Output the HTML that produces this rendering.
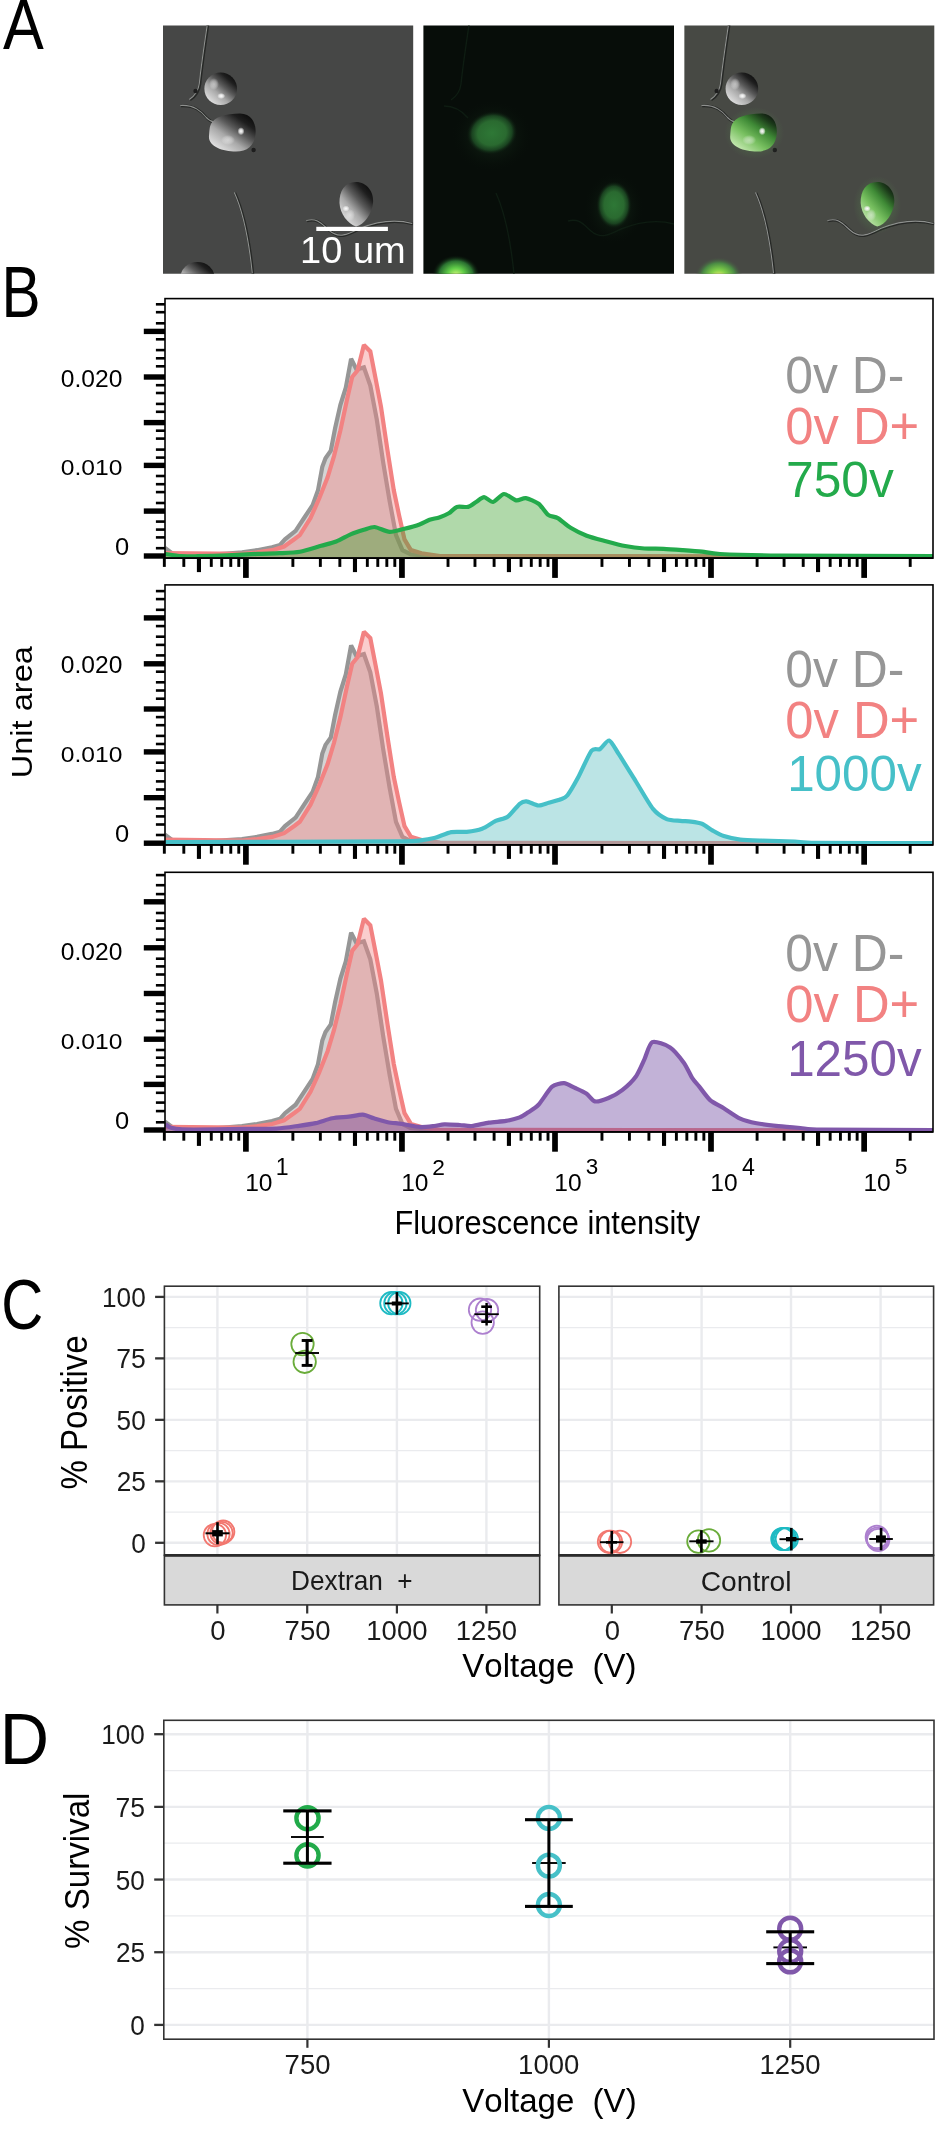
<!DOCTYPE html><html><head><meta charset="utf-8"><style>html,body{margin:0;padding:0;background:#fff;}svg{display:block;will-change:transform;}text{font-family:"Liberation Sans",sans-serif;}</style></head><body><svg width="936" height="2136" viewBox="0 0 936 2136">
<rect width="936" height="2136" fill="#fff"/>
<defs><linearGradient id="dic" x1="0.15" y1="0.9" x2="0.85" y2="0.1"><stop offset="0" stop-color="#e2e2e2"/><stop offset="0.35" stop-color="#a8a8a8"/><stop offset="0.6" stop-color="#5a5a5a"/><stop offset="0.85" stop-color="#1e1e1e"/><stop offset="1" stop-color="#101010"/></linearGradient><linearGradient id="dicg" x1="0.15" y1="0.9" x2="0.85" y2="0.1"><stop offset="0" stop-color="#c4e8b0"/><stop offset="0.35" stop-color="#78c060"/><stop offset="0.65" stop-color="#3f8a36"/><stop offset="0.9" stop-color="#1c3c1a"/><stop offset="1" stop-color="#142414"/></linearGradient><radialGradient id="fluo" cx="0.5" cy="0.5" r="0.5"><stop offset="0" stop-color="#2e7836"/><stop offset="0.55" stop-color="#2a6a30"/><stop offset="0.78" stop-color="#1a4220"/><stop offset="1" stop-color="#08100a" stop-opacity="0"/></radialGradient><radialGradient id="fhalo" cx="0.5" cy="0.5" r="0.5"><stop offset="0" stop-color="#1c3a20" stop-opacity="0.8"/><stop offset="1" stop-color="#08100a" stop-opacity="0"/></radialGradient><radialGradient id="fluob" cx="0.5" cy="0.5" r="0.5"><stop offset="0" stop-color="#d0f878"/><stop offset="0.35" stop-color="#60cc48"/><stop offset="0.7" stop-color="#2a7030"/><stop offset="1" stop-color="#08100a" stop-opacity="0"/></radialGradient><radialGradient id="ovb" cx="0.5" cy="0.5" r="0.5"><stop offset="0" stop-color="#f8f070"/><stop offset="0.35" stop-color="#80d048"/><stop offset="0.7" stop-color="#4a8a44"/><stop offset="1" stop-color="#474944" stop-opacity="0"/></radialGradient><radialGradient id="speck" cx="0.5" cy="0.5" r="0.5"><stop offset="0" stop-color="#ffffff"/><stop offset="0.5" stop-color="#f0f0f0" stop-opacity="0.8"/><stop offset="1" stop-color="#ffffff" stop-opacity="0"/></radialGradient><radialGradient id="halo" cx="0.5" cy="0.5" r="0.5"><stop offset="0" stop-color="#5aa050" stop-opacity="0.5"/><stop offset="1" stop-color="#5aa050" stop-opacity="0"/></radialGradient><clipPath id="c1"><rect x="163" y="25.5" width="250.2" height="248.2"/></clipPath><clipPath id="c2"><rect x="423.4" y="25.5" width="250.6" height="248.2"/></clipPath><clipPath id="c3"><rect x="684.2" y="25.6" width="250.1" height="248.2"/></clipPath></defs>
<g clip-path="url(#c1)">
<rect x="163" y="25" width="252" height="250" fill="#464746"/>
<g transform="translate(0,0)">
<path d="M208 25 C205 45 202 65 200 84 C199 92 196 96 190 100" fill="none" stroke="#262826" stroke-width="2.6"/>
<path d="M181 106 C195 105 202 112 207 118 C210 121 212 122 214 122" fill="none" stroke="#262826" stroke-width="2.6"/>
<path d="M235 193 C245 215 250 245 253 274" fill="none" stroke="#262826" stroke-width="2.6"/>
<path d="M307 221 C318 218 322 224 330 231 C340 240 350 234 360 229 C375 223 395 219 413 224" fill="none" stroke="#262826" stroke-width="2.6"/>
<path d="M208 25 C205 45 202 65 200 84 C199 92 196 96 190 100" fill="none" stroke="#8e908e" stroke-width="1.1" transform="translate(-0.7,-0.5)"/>
<path d="M181 106 C195 105 202 112 207 118 C210 121 212 122 214 122" fill="none" stroke="#8e908e" stroke-width="1.1" transform="translate(-0.7,-0.5)"/>
<path d="M235 193 C245 215 250 245 253 274" fill="none" stroke="#8e908e" stroke-width="1.1" transform="translate(-0.7,-0.5)"/>
<path d="M307 221 C318 218 322 224 330 231 C340 240 350 234 360 229 C375 223 395 219 413 224" fill="none" stroke="#8e908e" stroke-width="1.1" transform="translate(-0.7,-0.5)"/>
<circle cx="195.5" cy="91" r="2.2" fill="#1e1e1e"/><circle cx="253.6" cy="150" r="2.2" fill="#1e1e1e"/>
<circle cx="220.7" cy="88.8" r="16.3" fill="url(#dic)"/>
<path d="M211,124 C214,117 226,113.5 240,113.5 C252,113.5 256.5,124 255.5,134 C254.5,146 247,151.5 236,151.5 C222,151.5 208,146 209,136 C209.5,130 209.5,127 211,124 Z" fill="url(#dic)"/>
<path d="M356,182 C367,182 374,192 373,203 C372,214 364,225 356,226.5 C348,224 340,214 339.5,203 C339,191 345,182 356,182 Z" fill="url(#dic)"/>
<ellipse cx="221.2" cy="96" rx="4" ry="3" fill="url(#speck)"/><ellipse cx="241" cy="131.2" rx="3.5" ry="4" fill="url(#speck)"/><ellipse cx="346" cy="208.6" rx="3.5" ry="3" fill="url(#speck)"/>
<ellipse cx="214" cy="84" rx="5" ry="6" fill="url(#speck)" opacity="0.5"/><ellipse cx="228" cy="140" rx="7" ry="5" fill="url(#speck)" opacity="0.45"/><ellipse cx="350" cy="215" rx="5" ry="6" fill="url(#speck)" opacity="0.45"/>
<ellipse cx="197.5" cy="277" rx="17" ry="15" fill="url(#dic)"/>
</g></g>
<g clip-path="url(#c3)">
<rect x="684.2" y="25" width="252" height="250" fill="#474944"/>
<g transform="translate(521.2,0)">
<path d="M208 25 C205 45 202 65 200 84 C199 92 196 96 190 100" fill="none" stroke="#262826" stroke-width="2.6"/>
<path d="M181 106 C195 105 202 112 207 118 C210 121 212 122 214 122" fill="none" stroke="#262826" stroke-width="2.6"/>
<path d="M235 193 C245 215 250 245 253 274" fill="none" stroke="#262826" stroke-width="2.6"/>
<path d="M307 221 C318 218 322 224 330 231 C340 240 350 234 360 229 C375 223 395 219 413 224" fill="none" stroke="#262826" stroke-width="2.6"/>
<path d="M208 25 C205 45 202 65 200 84 C199 92 196 96 190 100" fill="none" stroke="#8e908e" stroke-width="1.1" transform="translate(-0.7,-0.5)"/>
<path d="M181 106 C195 105 202 112 207 118 C210 121 212 122 214 122" fill="none" stroke="#8e908e" stroke-width="1.1" transform="translate(-0.7,-0.5)"/>
<path d="M235 193 C245 215 250 245 253 274" fill="none" stroke="#8e908e" stroke-width="1.1" transform="translate(-0.7,-0.5)"/>
<path d="M307 221 C318 218 322 224 330 231 C340 240 350 234 360 229 C375 223 395 219 413 224" fill="none" stroke="#8e908e" stroke-width="1.1" transform="translate(-0.7,-0.5)"/>
<circle cx="195.5" cy="91" r="2.2" fill="#1e1e1e"/><circle cx="253.6" cy="150" r="2.2" fill="#1e1e1e"/>
<ellipse cx="233" cy="133" rx="30" ry="26" fill="url(#halo)"/><ellipse cx="356" cy="205" rx="24" ry="29" fill="url(#halo)"/>
<circle cx="220.7" cy="88.8" r="16.3" fill="url(#dic)"/>
<path d="M211,124 C214,117 226,113.5 240,113.5 C252,113.5 256.5,124 255.5,134 C254.5,146 247,151.5 236,151.5 C222,151.5 208,146 209,136 C209.5,130 209.5,127 211,124 Z" fill="url(#dicg)"/>
<path d="M356,182 C367,182 374,192 373,203 C372,214 364,225 356,226.5 C348,224 340,214 339.5,203 C339,191 345,182 356,182 Z" fill="url(#dicg)"/>
<ellipse cx="221.2" cy="96" rx="4" ry="3" fill="url(#speck)"/><ellipse cx="241" cy="131.2" rx="3.5" ry="4" fill="url(#speck)"/><ellipse cx="346" cy="208.6" rx="3.5" ry="3" fill="url(#speck)"/>
<ellipse cx="214" cy="84" rx="5" ry="6" fill="url(#speck)" opacity="0.5"/><ellipse cx="228" cy="140" rx="7" ry="5" fill="url(#speck)" opacity="0.45"/><ellipse cx="350" cy="215" rx="5" ry="6" fill="url(#speck)" opacity="0.45"/>
<ellipse cx="197.5" cy="277" rx="24" ry="20" fill="url(#ovb)"/>
</g></g>
<rect x="316.3" y="226.8" width="71.6" height="4.2" fill="#fff"/>
<text transform="translate(300.10,263.23) scale(1.0123,1)" x="0" y="0" font-size="37.57" fill="#fff" style="font-kerning:none" >10&#160;um</text>
<g clip-path="url(#c2)">
<rect x="423" y="25" width="252" height="250" fill="#070d09"/>
<path d="M469 25 C466 45 463 65 461 84 C460 92 457 96 451 100 M444 106 C456 106 463 112 468 118 M496 193 C506 215 511 245 514 274 M568 221 C579 218 583 224 591 231 C601 240 611 234 621 229 C636 223 656 219 674 224" fill="none" stroke="#0e1c12" stroke-width="1.4"/>
<ellipse cx="492" cy="136" rx="40" ry="36" fill="url(#fhalo)"/><ellipse cx="614" cy="208" rx="30" ry="36" fill="url(#fhalo)"/>
<ellipse cx="492" cy="133" rx="26" ry="22" fill="url(#fluo)" transform="rotate(-12 492 133)"/>
<ellipse cx="614" cy="205" rx="18" ry="24" fill="url(#fluo)"/>
<ellipse cx="456" cy="275" rx="24" ry="20" fill="url(#fluob)"/>
</g>
<defs>
<clipPath id="pb0"><rect x="165.0" y="298.6" width="768.0" height="258.9"/></clipPath>
<clipPath id="pb1"><rect x="165.0" y="584.9" width="768.0" height="259.4"/></clipPath>
<clipPath id="pb2"><rect x="165.0" y="872.3" width="768.0" height="259.0000000000002"/></clipPath>
</defs>
<path d="M165,548 L172,553.2 L181,555.7 L212,554.7 L227,553.5 L242,552.4 L257,550.2 L272,547.2 L280,545 L285,539.4 L295.6,530.9 L304.1,518 L312.6,505.2 L318,490.3 L322.3,466.8 L325.5,458.2 L330.8,450.7 L335.1,428.3 L340.4,404.8 L345.8,387.7 L351.1,358.8 L356.5,369.5 L363.9,367.4 L370.3,385.6 L376.8,419.7 L383.2,462.5 L389.6,500.9 L396,535.1 L402.4,550.1 L410.9,554.4 L440,556.7 L933,556.7 L933,558.1 L165,558.1 Z" fill="#969696" fill-opacity="0.4" stroke="none" clip-path="url(#pb0)"/>
<path d="M165,548 L172,553.2 L181,555.7 L212,554.7 L227,553.5 L242,552.4 L257,550.2 L272,547.2 L280,545 L285,539.4 L295.6,530.9 L304.1,518 L312.6,505.2 L318,490.3 L322.3,466.8 L325.5,458.2 L330.8,450.7 L335.1,428.3 L340.4,404.8 L345.8,387.7 L351.1,358.8 L356.5,369.5 L363.9,367.4 L370.3,385.6 L376.8,419.7 L383.2,462.5 L389.6,500.9 L396,535.1 L402.4,550.1 L410.9,554.4 L440,556.7 L933,556.7" fill="none" stroke="#969696" stroke-width="4.2" stroke-linejoin="miter" stroke-miterlimit="2" clip-path="url(#pb0)"/>
<path d="M165,553 L242.3,553.9 L257.2,552.4 L272.2,550.2 L284.1,546.5 L294.6,539 L299.8,535.1 L310.5,518 L319.1,498.8 L327.6,477.4 L334,456.1 L340.4,430.4 L346.8,400.5 L352.2,377 L357.5,370.6 L363.9,345 L370.3,351.4 L375.7,379.1 L381,406.9 L387.4,449.7 L393.8,490.3 L399.2,515.9 L404.5,539.4 L410.9,550.1 L421.6,553.3 L440,556 L933,556.7 L933,558.1 L165,558.1 Z" fill="#f28282" fill-opacity="0.4" stroke="none" clip-path="url(#pb0)"/>
<path d="M165,553 L242.3,553.9 L257.2,552.4 L272.2,550.2 L284.1,546.5 L294.6,539 L299.8,535.1 L310.5,518 L319.1,498.8 L327.6,477.4 L334,456.1 L340.4,430.4 L346.8,400.5 L352.2,377 L357.5,370.6 L363.9,345 L370.3,351.4 L375.7,379.1 L381,406.9 L387.4,449.7 L393.8,490.3 L399.2,515.9 L404.5,539.4 L410.9,550.1 L421.6,553.3 L440,556 L933,556.7" fill="none" stroke="#f28282" stroke-width="4.2" stroke-linejoin="miter" stroke-miterlimit="2" clip-path="url(#pb0)"/>
<path d="M165,553.9 C166.92,554.18 177.11,555.92 181,556.2 C184.89,556.48 191.84,556.3 197.4,556.2 C202.96,556.1 220.12,555.68 227.3,555.4 C234.48,555.12 250.91,554.16 257.2,553.9 C263.49,553.64 274.56,553.46 279.7,553.2 C284.84,552.94 295.02,552.59 300,551.7 C304.98,550.81 316.86,547.02 321.2,545.8 C325.54,544.58 332.61,542.9 336.2,541.5 C339.79,540.1 347.78,535.5 351.1,534.1 C354.42,532.7 361.08,530.65 363.9,529.8 C366.72,528.95 371.52,526.75 374.6,527 C377.68,527.25 386.01,531.7 389.6,531.9 C393.19,532.1 400.91,529.6 404.5,528.7 C408.09,527.8 416.49,525.48 419.5,524.4 C422.51,523.32 427.24,520.54 429.6,519.7 C431.96,518.86 436.9,518.17 439.2,517.4 C441.5,516.63 446.68,514.56 448.8,513.3 C450.92,512.04 454.58,507.67 456.9,506.9 C459.22,506.13 465.8,507.49 468.1,506.9 C470.4,506.31 474.18,503.16 476.1,502 C478.02,500.84 482.06,497.2 484.1,497.2 C486.14,497.2 490.71,502.38 493.1,502 C495.49,501.62 501.23,494.19 504,494 C506.77,493.81 513.58,499.9 516.2,500.4 C518.82,500.9 523.11,497.8 525.8,498.2 C528.49,498.6 535.91,501.7 538.6,503.7 C541.29,505.7 545.9,513.17 548.2,514.9 C550.5,516.63 555.11,516.56 557.8,518.1 C560.49,519.64 567.13,525.59 570.6,527.7 C574.07,529.81 582.46,534.08 586.7,535.7 C590.94,537.32 601.29,539.96 605.9,541.2 C610.51,542.44 620.48,545.12 625.1,546 C629.72,546.88 639.78,548.16 644.4,548.5 C649.02,548.84 658.99,548.61 663.6,548.8 C668.21,548.99 678.18,549.75 682.8,550.1 C687.42,550.45 697.64,551.23 702.1,551.7 C706.56,552.17 710.65,553.54 720,554 C729.35,554.46 754.44,555.26 780,555.5 C805.56,555.74 914.64,555.94 933,556 L933,558.1 L165,558.1 Z" fill="rgb(58,160,43)" fill-opacity="0.4" stroke="none" clip-path="url(#pb0)"/>
<path d="M165,553.9 C166.92,554.18 177.11,555.92 181,556.2 C184.89,556.48 191.84,556.3 197.4,556.2 C202.96,556.1 220.12,555.68 227.3,555.4 C234.48,555.12 250.91,554.16 257.2,553.9 C263.49,553.64 274.56,553.46 279.7,553.2 C284.84,552.94 295.02,552.59 300,551.7 C304.98,550.81 316.86,547.02 321.2,545.8 C325.54,544.58 332.61,542.9 336.2,541.5 C339.79,540.1 347.78,535.5 351.1,534.1 C354.42,532.7 361.08,530.65 363.9,529.8 C366.72,528.95 371.52,526.75 374.6,527 C377.68,527.25 386.01,531.7 389.6,531.9 C393.19,532.1 400.91,529.6 404.5,528.7 C408.09,527.8 416.49,525.48 419.5,524.4 C422.51,523.32 427.24,520.54 429.6,519.7 C431.96,518.86 436.9,518.17 439.2,517.4 C441.5,516.63 446.68,514.56 448.8,513.3 C450.92,512.04 454.58,507.67 456.9,506.9 C459.22,506.13 465.8,507.49 468.1,506.9 C470.4,506.31 474.18,503.16 476.1,502 C478.02,500.84 482.06,497.2 484.1,497.2 C486.14,497.2 490.71,502.38 493.1,502 C495.49,501.62 501.23,494.19 504,494 C506.77,493.81 513.58,499.9 516.2,500.4 C518.82,500.9 523.11,497.8 525.8,498.2 C528.49,498.6 535.91,501.7 538.6,503.7 C541.29,505.7 545.9,513.17 548.2,514.9 C550.5,516.63 555.11,516.56 557.8,518.1 C560.49,519.64 567.13,525.59 570.6,527.7 C574.07,529.81 582.46,534.08 586.7,535.7 C590.94,537.32 601.29,539.96 605.9,541.2 C610.51,542.44 620.48,545.12 625.1,546 C629.72,546.88 639.78,548.16 644.4,548.5 C649.02,548.84 658.99,548.61 663.6,548.8 C668.21,548.99 678.18,549.75 682.8,550.1 C687.42,550.45 697.64,551.23 702.1,551.7 C706.56,552.17 710.65,553.54 720,554 C729.35,554.46 754.44,555.26 780,555.5 C805.56,555.74 914.64,555.94 933,556" fill="none" stroke="#23aa4b" stroke-width="4.2" stroke-linejoin="miter" stroke-miterlimit="2" clip-path="url(#pb0)"/>
<rect x="165.0" y="298.6" width="768.0" height="259.5" fill="none" stroke="#000" stroke-width="1.6"/>
<line x1="164.2" x2="933.0" y1="558.1" y2="558.1" stroke="#000" stroke-width="1.8"/>
<rect x="143.8" y="328.7" width="21.2" height="5.4" fill="#000"/>
<rect x="143.8" y="374.3" width="21.2" height="5.4" fill="#000"/>
<rect x="143.8" y="419.9" width="21.2" height="5.4" fill="#000"/>
<rect x="143.8" y="462.7" width="21.2" height="5.4" fill="#000"/>
<rect x="143.8" y="508.4" width="21.2" height="5.4" fill="#000"/>
<rect x="143.8" y="553.3" width="21.2" height="5.4" fill="#000"/>
<rect x="155.9" y="303" width="9.1" height="2.6" fill="#000"/>
<rect x="155.9" y="310.9" width="9.1" height="2.6" fill="#000"/>
<rect x="155.9" y="322" width="9.1" height="2.6" fill="#000"/>
<rect x="155.9" y="338" width="9.1" height="2.6" fill="#000"/>
<rect x="155.9" y="348.8" width="9.1" height="2.6" fill="#000"/>
<rect x="155.9" y="357" width="9.1" height="2.6" fill="#000"/>
<rect x="155.9" y="365" width="9.1" height="2.6" fill="#000"/>
<rect x="155.9" y="383.9" width="9.1" height="2.6" fill="#000"/>
<rect x="155.9" y="391.7" width="9.1" height="2.6" fill="#000"/>
<rect x="155.9" y="402.6" width="9.1" height="2.6" fill="#000"/>
<rect x="155.9" y="410.5" width="9.1" height="2.6" fill="#000"/>
<rect x="155.9" y="429.4" width="9.1" height="2.6" fill="#000"/>
<rect x="155.9" y="437.3" width="9.1" height="2.6" fill="#000"/>
<rect x="155.9" y="448.3" width="9.1" height="2.6" fill="#000"/>
<rect x="155.9" y="456.3" width="9.1" height="2.6" fill="#000"/>
<rect x="155.9" y="474.7" width="9.1" height="2.6" fill="#000"/>
<rect x="155.9" y="482.9" width="9.1" height="2.6" fill="#000"/>
<rect x="155.9" y="490.8" width="9.1" height="2.6" fill="#000"/>
<rect x="155.9" y="501.7" width="9.1" height="2.6" fill="#000"/>
<rect x="155.9" y="520.3" width="9.1" height="2.6" fill="#000"/>
<rect x="155.9" y="528.3" width="9.1" height="2.6" fill="#000"/>
<rect x="155.9" y="536.1" width="9.1" height="2.6" fill="#000"/>
<rect x="155.9" y="546.9" width="9.1" height="2.6" fill="#000"/>
<rect x="162.88" y="558.1" width="2.9" height="8.8" fill="#000"/>
<rect x="182.37" y="558.1" width="2.9" height="8.8" fill="#000"/>
<rect x="196.89" y="558.1" width="4.1" height="14" fill="#000"/>
<rect x="209.84" y="558.1" width="2.9" height="8.8" fill="#000"/>
<rect x="220.29" y="558.1" width="2.9" height="8.8" fill="#000"/>
<rect x="229.33" y="558.1" width="2.9" height="8.8" fill="#000"/>
<rect x="237.31" y="558.1" width="2.9" height="8.8" fill="#000"/>
<rect x="243.05" y="558.1" width="5.7" height="19.8" fill="#000"/>
<rect x="291.43" y="558.1" width="2.9" height="8.8" fill="#000"/>
<rect x="318.9" y="558.1" width="2.9" height="8.8" fill="#000"/>
<rect x="338.4" y="558.1" width="2.9" height="8.8" fill="#000"/>
<rect x="352.92" y="558.1" width="4.1" height="14" fill="#000"/>
<rect x="365.88" y="558.1" width="2.9" height="8.8" fill="#000"/>
<rect x="376.33" y="558.1" width="2.9" height="8.8" fill="#000"/>
<rect x="385.38" y="558.1" width="2.9" height="8.8" fill="#000"/>
<rect x="393.36" y="558.1" width="2.9" height="8.8" fill="#000"/>
<rect x="399.1" y="558.1" width="5.7" height="19.8" fill="#000"/>
<rect x="446.57" y="558.1" width="2.9" height="8.8" fill="#000"/>
<rect x="473.52" y="558.1" width="2.9" height="8.8" fill="#000"/>
<rect x="492.65" y="558.1" width="2.9" height="8.8" fill="#000"/>
<rect x="506.88" y="558.1" width="4.1" height="14" fill="#000"/>
<rect x="519.6" y="558.1" width="2.9" height="8.8" fill="#000"/>
<rect x="529.84" y="558.1" width="2.9" height="8.8" fill="#000"/>
<rect x="538.72" y="558.1" width="2.9" height="8.8" fill="#000"/>
<rect x="546.55" y="558.1" width="2.9" height="8.8" fill="#000"/>
<rect x="552.15" y="558.1" width="5.7" height="19.8" fill="#000"/>
<rect x="600.51" y="558.1" width="2.9" height="8.8" fill="#000"/>
<rect x="627.98" y="558.1" width="2.9" height="8.8" fill="#000"/>
<rect x="647.47" y="558.1" width="2.9" height="8.8" fill="#000"/>
<rect x="661.99" y="558.1" width="4.1" height="14" fill="#000"/>
<rect x="674.94" y="558.1" width="2.9" height="8.8" fill="#000"/>
<rect x="685.39" y="558.1" width="2.9" height="8.8" fill="#000"/>
<rect x="694.43" y="558.1" width="2.9" height="8.8" fill="#000"/>
<rect x="702.41" y="558.1" width="2.9" height="8.8" fill="#000"/>
<rect x="708.15" y="558.1" width="5.7" height="19.8" fill="#000"/>
<rect x="755.65" y="558.1" width="2.9" height="8.8" fill="#000"/>
<rect x="782.62" y="558.1" width="2.9" height="8.8" fill="#000"/>
<rect x="801.76" y="558.1" width="2.9" height="8.8" fill="#000"/>
<rect x="816" y="558.1" width="4.1" height="14" fill="#000"/>
<rect x="828.72" y="558.1" width="2.9" height="8.8" fill="#000"/>
<rect x="838.98" y="558.1" width="2.9" height="8.8" fill="#000"/>
<rect x="847.86" y="558.1" width="2.9" height="8.8" fill="#000"/>
<rect x="855.69" y="558.1" width="2.9" height="8.8" fill="#000"/>
<rect x="861.3" y="558.1" width="5.7" height="19.8" fill="#000"/>
<rect x="908.76" y="558.1" width="2.9" height="8.8" fill="#000"/>
<text transform="translate(60.84,386.57) scale(1.0567,1)" x="0" y="0" font-size="23.30" fill="#000" style="font-kerning:none" >0.020</text>
<text transform="translate(60.84,474.98) scale(1.0762,1)" x="0" y="0" font-size="22.88" fill="#000" style="font-kerning:none" >0.010</text>
<text transform="translate(115.00,555.37) scale(1.1018,1)" x="0" y="0" font-size="23.16" fill="#000" style="font-kerning:none" >0</text>
<text transform="translate(785.25,392.70) scale(0.9693,1)" x="0" y="0" font-size="51.41" fill="#969696" style="font-kerning:none" >0v&#160;D-</text>
<text transform="translate(785.22,444.10) scale(0.9906,1)" x="0" y="0" font-size="51.27" fill="#f28282" style="font-kerning:none" >0v&#160;D+</text>
<text transform="translate(786.05,497.31) scale(0.9935,1)" x="0" y="0" font-size="50.00" fill="#23aa4b" style="font-kerning:none" >750v</text>
<path d="M165,834.7 L172,839.9 L181,842.4 L212,841.4 L227,840.2 L242,839.1 L257,836.9 L272,833.9 L280,831.7 L285,826.1 L295.6,817.6 L304.1,804.7 L312.6,791.9 L318,777 L322.3,753.5 L325.5,744.9 L330.8,737.4 L335.1,715 L340.4,691.5 L345.8,674.4 L351.1,645.5 L356.5,656.2 L363.9,654.1 L370.3,672.3 L376.8,706.4 L383.2,749.2 L389.6,787.6 L396,821.8 L402.4,836.8 L410.9,841.1 L440,843.4 L933,843.4 L933,844.9 L165,844.9 Z" fill="#969696" fill-opacity="0.4" stroke="none" clip-path="url(#pb1)"/>
<path d="M165,834.7 L172,839.9 L181,842.4 L212,841.4 L227,840.2 L242,839.1 L257,836.9 L272,833.9 L280,831.7 L285,826.1 L295.6,817.6 L304.1,804.7 L312.6,791.9 L318,777 L322.3,753.5 L325.5,744.9 L330.8,737.4 L335.1,715 L340.4,691.5 L345.8,674.4 L351.1,645.5 L356.5,656.2 L363.9,654.1 L370.3,672.3 L376.8,706.4 L383.2,749.2 L389.6,787.6 L396,821.8 L402.4,836.8 L410.9,841.1 L440,843.4 L933,843.4" fill="none" stroke="#969696" stroke-width="4.2" stroke-linejoin="miter" stroke-miterlimit="2" clip-path="url(#pb1)"/>
<path d="M165,839.7 L242.3,840.6 L257.2,839.1 L272.2,836.9 L284.1,833.2 L294.6,825.7 L299.8,821.8 L310.5,804.7 L319.1,785.5 L327.6,764.1 L334,742.8 L340.4,717.1 L346.8,687.2 L352.2,663.7 L357.5,657.3 L363.9,631.7 L370.3,638.1 L375.7,665.8 L381,693.6 L387.4,736.4 L393.8,777 L399.2,802.6 L404.5,826.1 L410.9,836.8 L421.6,840 L440,842.7 L933,843.4 L933,844.9 L165,844.9 Z" fill="#f28282" fill-opacity="0.4" stroke="none" clip-path="url(#pb1)"/>
<path d="M165,839.7 L242.3,840.6 L257.2,839.1 L272.2,836.9 L284.1,833.2 L294.6,825.7 L299.8,821.8 L310.5,804.7 L319.1,785.5 L327.6,764.1 L334,742.8 L340.4,717.1 L346.8,687.2 L352.2,663.7 L357.5,657.3 L363.9,631.7 L370.3,638.1 L375.7,665.8 L381,693.6 L387.4,736.4 L393.8,777 L399.2,802.6 L404.5,826.1 L410.9,836.8 L421.6,840 L440,842.7 L933,843.4" fill="none" stroke="#f28282" stroke-width="4.2" stroke-linejoin="miter" stroke-miterlimit="2" clip-path="url(#pb1)"/>
<path d="M165,842 C193.2,841.93 369.34,841.6 400,841.4 C420.5,841.2 416.4,840.71 420.5,840.3 C424.6,839.89 430.5,838.98 434.2,838 C437.9,837.02 447.4,832.84 451.3,832.1 C455.2,831.36 463,832.21 466.7,831.8 C470.4,831.39 478.62,830.01 482.1,828.7 C485.58,827.39 492.63,822.33 495.7,820.9 C498.77,819.47 504.82,818.85 507.7,816.8 C510.58,814.75 517.44,805.65 519.7,803.8 C521.96,801.95 524.24,801.2 526.5,801.4 C528.76,801.6 535.84,805.34 538.5,805.5 C541.16,805.66 546.04,803.44 548.7,802.7 C551.36,801.96 558.44,800.2 560.7,799.3 C562.96,798.4 565.45,797.74 567.5,795.2 C569.55,792.66 574.92,783.43 577.8,778.1 C580.68,772.77 588.84,754.28 591.5,750.8 C594.16,747.32 597.88,750.34 600,749.1 C602.12,747.86 606.94,739.89 609.2,740.5 C611.46,741.11 615.6,749.28 618.8,754.2 C622,759.12 631.8,774.94 635.9,781.5 C640,788.06 649.3,804.39 653,808.9 C656.7,813.41 663.42,817.66 666.7,819.1 C669.98,820.54 677.4,820.6 680.3,820.9 C683.2,821.2 688.31,821.25 690.9,821.6 C693.49,821.95 699.27,822.72 701.9,823.8 C704.53,824.88 710.17,829.12 712.8,830.6 C715.43,832.08 720.51,835.02 723.8,836.1 C727.09,837.18 735.62,839.05 740.2,839.6 C744.78,840.15 755.44,840.47 762,840.7 C768.56,840.93 788.32,841.24 794.9,841.5 C801.48,841.76 800.23,842.72 816.8,842.9 C833.37,843.08 919.06,842.99 933,843 L933,844.9 L165,844.9 Z" fill="rgb(85,188,190)" fill-opacity="0.4" stroke="none" clip-path="url(#pb1)"/>
<path d="M165,842 C193.2,841.93 369.34,841.6 400,841.4 C420.5,841.2 416.4,840.71 420.5,840.3 C424.6,839.89 430.5,838.98 434.2,838 C437.9,837.02 447.4,832.84 451.3,832.1 C455.2,831.36 463,832.21 466.7,831.8 C470.4,831.39 478.62,830.01 482.1,828.7 C485.58,827.39 492.63,822.33 495.7,820.9 C498.77,819.47 504.82,818.85 507.7,816.8 C510.58,814.75 517.44,805.65 519.7,803.8 C521.96,801.95 524.24,801.2 526.5,801.4 C528.76,801.6 535.84,805.34 538.5,805.5 C541.16,805.66 546.04,803.44 548.7,802.7 C551.36,801.96 558.44,800.2 560.7,799.3 C562.96,798.4 565.45,797.74 567.5,795.2 C569.55,792.66 574.92,783.43 577.8,778.1 C580.68,772.77 588.84,754.28 591.5,750.8 C594.16,747.32 597.88,750.34 600,749.1 C602.12,747.86 606.94,739.89 609.2,740.5 C611.46,741.11 615.6,749.28 618.8,754.2 C622,759.12 631.8,774.94 635.9,781.5 C640,788.06 649.3,804.39 653,808.9 C656.7,813.41 663.42,817.66 666.7,819.1 C669.98,820.54 677.4,820.6 680.3,820.9 C683.2,821.2 688.31,821.25 690.9,821.6 C693.49,821.95 699.27,822.72 701.9,823.8 C704.53,824.88 710.17,829.12 712.8,830.6 C715.43,832.08 720.51,835.02 723.8,836.1 C727.09,837.18 735.62,839.05 740.2,839.6 C744.78,840.15 755.44,840.47 762,840.7 C768.56,840.93 788.32,841.24 794.9,841.5 C801.48,841.76 800.23,842.72 816.8,842.9 C833.37,843.08 919.06,842.99 933,843" fill="none" stroke="#46c0c8" stroke-width="4.2" stroke-linejoin="miter" stroke-miterlimit="2" clip-path="url(#pb1)"/>
<rect x="165.0" y="584.9" width="768.0" height="260.0" fill="none" stroke="#000" stroke-width="1.6"/>
<line x1="164.2" x2="933.0" y1="844.9" y2="844.9" stroke="#000" stroke-width="1.8"/>
<rect x="143.8" y="615.2" width="21.2" height="5.4" fill="#000"/>
<rect x="143.8" y="661.1" width="21.2" height="5.4" fill="#000"/>
<rect x="143.8" y="706.3" width="21.2" height="5.4" fill="#000"/>
<rect x="143.8" y="749.2" width="21.2" height="5.4" fill="#000"/>
<rect x="143.8" y="795" width="21.2" height="5.4" fill="#000"/>
<rect x="143.8" y="840.5" width="21.2" height="5.4" fill="#000"/>
<rect x="155.9" y="589.8" width="9.1" height="2.6" fill="#000"/>
<rect x="155.9" y="597.8" width="9.1" height="2.6" fill="#000"/>
<rect x="155.9" y="608.5" width="9.1" height="2.6" fill="#000"/>
<rect x="155.9" y="624.8" width="9.1" height="2.6" fill="#000"/>
<rect x="155.9" y="635.4" width="9.1" height="2.6" fill="#000"/>
<rect x="155.9" y="643.6" width="9.1" height="2.6" fill="#000"/>
<rect x="155.9" y="654.1" width="9.1" height="2.6" fill="#000"/>
<rect x="155.9" y="670.4" width="9.1" height="2.6" fill="#000"/>
<rect x="155.9" y="681" width="9.1" height="2.6" fill="#000"/>
<rect x="155.9" y="689.2" width="9.1" height="2.6" fill="#000"/>
<rect x="155.9" y="697.4" width="9.1" height="2.6" fill="#000"/>
<rect x="155.9" y="715.8" width="9.1" height="2.6" fill="#000"/>
<rect x="155.9" y="723.9" width="9.1" height="2.6" fill="#000"/>
<rect x="155.9" y="734.6" width="9.1" height="2.6" fill="#000"/>
<rect x="155.9" y="742.7" width="9.1" height="2.6" fill="#000"/>
<rect x="155.9" y="761.4" width="9.1" height="2.6" fill="#000"/>
<rect x="155.9" y="769.4" width="9.1" height="2.6" fill="#000"/>
<rect x="155.9" y="780.1" width="9.1" height="2.6" fill="#000"/>
<rect x="155.9" y="788.2" width="9.1" height="2.6" fill="#000"/>
<rect x="155.9" y="807.1" width="9.1" height="2.6" fill="#000"/>
<rect x="155.9" y="815.1" width="9.1" height="2.6" fill="#000"/>
<rect x="155.9" y="823.2" width="9.1" height="2.6" fill="#000"/>
<rect x="155.9" y="833.7" width="9.1" height="2.6" fill="#000"/>
<rect x="162.88" y="844.9" width="2.9" height="8.8" fill="#000"/>
<rect x="182.37" y="844.9" width="2.9" height="8.8" fill="#000"/>
<rect x="196.89" y="844.9" width="4.1" height="14" fill="#000"/>
<rect x="209.84" y="844.9" width="2.9" height="8.8" fill="#000"/>
<rect x="220.29" y="844.9" width="2.9" height="8.8" fill="#000"/>
<rect x="229.33" y="844.9" width="2.9" height="8.8" fill="#000"/>
<rect x="237.31" y="844.9" width="2.9" height="8.8" fill="#000"/>
<rect x="243.05" y="844.9" width="5.7" height="19.8" fill="#000"/>
<rect x="291.43" y="844.9" width="2.9" height="8.8" fill="#000"/>
<rect x="318.9" y="844.9" width="2.9" height="8.8" fill="#000"/>
<rect x="338.4" y="844.9" width="2.9" height="8.8" fill="#000"/>
<rect x="352.92" y="844.9" width="4.1" height="14" fill="#000"/>
<rect x="365.88" y="844.9" width="2.9" height="8.8" fill="#000"/>
<rect x="376.33" y="844.9" width="2.9" height="8.8" fill="#000"/>
<rect x="385.38" y="844.9" width="2.9" height="8.8" fill="#000"/>
<rect x="393.36" y="844.9" width="2.9" height="8.8" fill="#000"/>
<rect x="399.1" y="844.9" width="5.7" height="19.8" fill="#000"/>
<rect x="446.57" y="844.9" width="2.9" height="8.8" fill="#000"/>
<rect x="473.52" y="844.9" width="2.9" height="8.8" fill="#000"/>
<rect x="492.65" y="844.9" width="2.9" height="8.8" fill="#000"/>
<rect x="506.88" y="844.9" width="4.1" height="14" fill="#000"/>
<rect x="519.6" y="844.9" width="2.9" height="8.8" fill="#000"/>
<rect x="529.84" y="844.9" width="2.9" height="8.8" fill="#000"/>
<rect x="538.72" y="844.9" width="2.9" height="8.8" fill="#000"/>
<rect x="546.55" y="844.9" width="2.9" height="8.8" fill="#000"/>
<rect x="552.15" y="844.9" width="5.7" height="19.8" fill="#000"/>
<rect x="600.51" y="844.9" width="2.9" height="8.8" fill="#000"/>
<rect x="627.98" y="844.9" width="2.9" height="8.8" fill="#000"/>
<rect x="647.47" y="844.9" width="2.9" height="8.8" fill="#000"/>
<rect x="661.99" y="844.9" width="4.1" height="14" fill="#000"/>
<rect x="674.94" y="844.9" width="2.9" height="8.8" fill="#000"/>
<rect x="685.39" y="844.9" width="2.9" height="8.8" fill="#000"/>
<rect x="694.43" y="844.9" width="2.9" height="8.8" fill="#000"/>
<rect x="702.41" y="844.9" width="2.9" height="8.8" fill="#000"/>
<rect x="708.15" y="844.9" width="5.7" height="19.8" fill="#000"/>
<rect x="755.65" y="844.9" width="2.9" height="8.8" fill="#000"/>
<rect x="782.62" y="844.9" width="2.9" height="8.8" fill="#000"/>
<rect x="801.76" y="844.9" width="2.9" height="8.8" fill="#000"/>
<rect x="816" y="844.9" width="4.1" height="14" fill="#000"/>
<rect x="828.72" y="844.9" width="2.9" height="8.8" fill="#000"/>
<rect x="838.98" y="844.9" width="2.9" height="8.8" fill="#000"/>
<rect x="847.86" y="844.9" width="2.9" height="8.8" fill="#000"/>
<rect x="855.69" y="844.9" width="2.9" height="8.8" fill="#000"/>
<rect x="861.3" y="844.9" width="5.7" height="19.8" fill="#000"/>
<rect x="908.76" y="844.9" width="2.9" height="8.8" fill="#000"/>
<text transform="translate(60.84,673.27) scale(1.0567,1)" x="0" y="0" font-size="23.30" fill="#000" style="font-kerning:none" >0.020</text>
<text transform="translate(60.84,761.68) scale(1.0762,1)" x="0" y="0" font-size="22.88" fill="#000" style="font-kerning:none" >0.010</text>
<text transform="translate(115.00,842.07) scale(1.1018,1)" x="0" y="0" font-size="23.16" fill="#000" style="font-kerning:none" >0</text>
<text transform="translate(785.25,687.10) scale(0.9720,1)" x="0" y="0" font-size="51.27" fill="#969696" style="font-kerning:none" >0v&#160;D-</text>
<text transform="translate(785.22,737.70) scale(0.9879,1)" x="0" y="0" font-size="51.41" fill="#f28282" style="font-kerning:none" >0v&#160;D+</text>
<text transform="translate(787.14,791.22) scale(1.0024,1)" x="0" y="0" font-size="49.29" fill="#46c0c8" style="font-kerning:none" >1000v</text>
<path d="M165,1121.8 L172,1127 L181,1129.5 L212,1128.5 L227,1127.3 L242,1126.2 L257,1124 L272,1121 L280,1118.8 L285,1113.2 L295.6,1104.7 L304.1,1091.8 L312.6,1079 L318,1064.1 L322.3,1040.6 L325.5,1032 L330.8,1024.5 L335.1,1002.1 L340.4,978.6 L345.8,961.5 L351.1,932.6 L356.5,943.3 L363.9,941.2 L370.3,959.4 L376.8,993.5 L383.2,1036.3 L389.6,1074.7 L396,1108.9 L402.4,1123.9 L410.9,1128.2 L440,1130.5 L933,1130.5 L933,1131.9 L165,1131.9 Z" fill="#969696" fill-opacity="0.4" stroke="none" clip-path="url(#pb2)"/>
<path d="M165,1121.8 L172,1127 L181,1129.5 L212,1128.5 L227,1127.3 L242,1126.2 L257,1124 L272,1121 L280,1118.8 L285,1113.2 L295.6,1104.7 L304.1,1091.8 L312.6,1079 L318,1064.1 L322.3,1040.6 L325.5,1032 L330.8,1024.5 L335.1,1002.1 L340.4,978.6 L345.8,961.5 L351.1,932.6 L356.5,943.3 L363.9,941.2 L370.3,959.4 L376.8,993.5 L383.2,1036.3 L389.6,1074.7 L396,1108.9 L402.4,1123.9 L410.9,1128.2 L440,1130.5 L933,1130.5" fill="none" stroke="#969696" stroke-width="4.2" stroke-linejoin="miter" stroke-miterlimit="2" clip-path="url(#pb2)"/>
<path d="M165,1126.8 L242.3,1127.7 L257.2,1126.2 L272.2,1124 L284.1,1120.3 L294.6,1112.8 L299.8,1108.9 L310.5,1091.8 L319.1,1072.6 L327.6,1051.2 L334,1029.9 L340.4,1004.2 L346.8,974.3 L352.2,950.8 L357.5,944.4 L363.9,918.8 L370.3,925.2 L375.7,952.9 L381,980.7 L387.4,1023.5 L393.8,1064.1 L399.2,1089.7 L404.5,1113.2 L410.9,1123.9 L421.6,1127.1 L440,1129.8 L933,1130.5 L933,1131.9 L165,1131.9 Z" fill="#f28282" fill-opacity="0.4" stroke="none" clip-path="url(#pb2)"/>
<path d="M165,1126.8 L242.3,1127.7 L257.2,1126.2 L272.2,1124 L284.1,1120.3 L294.6,1112.8 L299.8,1108.9 L310.5,1091.8 L319.1,1072.6 L327.6,1051.2 L334,1029.9 L340.4,1004.2 L346.8,974.3 L352.2,950.8 L357.5,944.4 L363.9,918.8 L370.3,925.2 L375.7,952.9 L381,980.7 L387.4,1023.5 L393.8,1064.1 L399.2,1089.7 L404.5,1113.2 L410.9,1123.9 L421.6,1127.1 L440,1129.8 L933,1130.5" fill="none" stroke="#f28282" stroke-width="4.2" stroke-linejoin="miter" stroke-miterlimit="2" clip-path="url(#pb2)"/>
<path d="M165.6,1124.4 C166.26,1124.81 169.11,1127.2 171.1,1127.8 C173.09,1128.4 176.86,1129.21 182.2,1129.4 C187.54,1129.59 208.27,1129.46 215.6,1129.4 C222.93,1129.34 235.97,1129 243.3,1128.9 C250.63,1128.8 270.03,1128.97 276.7,1128.6 C283.37,1128.23 294.23,1126.46 298.9,1125.8 C303.57,1125.14 311.6,1124 315.6,1123.1 C319.6,1122.2 328.2,1119.07 332.2,1118.3 C336.2,1117.53 345.23,1117.13 348.9,1116.7 C352.57,1116.27 359.8,1114.51 362.8,1114.7 C365.8,1114.89 370.9,1117.4 373.9,1118.3 C376.9,1119.2 384.46,1121.53 387.8,1122.2 C391.14,1122.87 397.84,1123.32 401.7,1123.9 C405.56,1124.48 416.1,1126.75 420,1127 C423.9,1127.25 431.27,1126.32 434.2,1126 C437.13,1125.68 441.33,1124.42 444.4,1124.3 C447.47,1124.18 456.51,1124.8 459.8,1125 C463.09,1125.2 468.31,1126.29 471.8,1126 C475.29,1125.71 484.8,1123.21 488.9,1122.6 C493,1121.99 502.3,1121.52 506,1120.9 C509.7,1120.28 517.04,1118.43 519.7,1117.4 C522.36,1116.37 525.94,1113.81 528.2,1112.3 C530.46,1110.79 535.63,1107.87 538.5,1104.8 C541.37,1101.73 549.03,1089.29 552.1,1086.7 C555.17,1084.11 561.42,1083.08 564.1,1083.2 C566.78,1083.32 571.74,1086.46 574.4,1087.7 C577.06,1088.94 583.84,1091.86 586.3,1093.5 C588.76,1095.14 592.24,1100.86 594.9,1101.4 C597.56,1101.94 605.22,1099.36 608.5,1098 C611.78,1096.64 618.91,1092.69 622.2,1090.1 C625.49,1087.51 633.24,1080.1 635.9,1076.4 C638.56,1072.7 642.43,1063.4 644.4,1059.3 C646.37,1055.2 649.22,1043.63 652.3,1042.2 C655.38,1040.77 666.32,1044.94 670.1,1047.4 C673.88,1049.86 681.14,1059.02 683.8,1062.7 C686.46,1066.38 690.46,1075.26 692.3,1078.1 C694.14,1080.94 696.96,1083.76 699.1,1086.4 C701.24,1089.04 707.14,1097.47 710.1,1100.1 C713.06,1102.73 720.19,1106.07 723.8,1108.3 C727.41,1110.53 736.26,1116.9 740.2,1118.7 C744.14,1120.5 752,1122.41 756.6,1123.3 C761.2,1124.19 773.24,1125.54 778.5,1126.1 C783.76,1126.66 795.16,1127.58 800.4,1128 C805.64,1128.42 806.29,1129.36 822.2,1129.6 C838.11,1129.84 919.7,1129.95 933,1130 L933,1131.9 L165.6,1131.9 Z" fill="rgb(103,63,155)" fill-opacity="0.4" stroke="none" clip-path="url(#pb2)"/>
<path d="M165.6,1124.4 C166.26,1124.81 169.11,1127.2 171.1,1127.8 C173.09,1128.4 176.86,1129.21 182.2,1129.4 C187.54,1129.59 208.27,1129.46 215.6,1129.4 C222.93,1129.34 235.97,1129 243.3,1128.9 C250.63,1128.8 270.03,1128.97 276.7,1128.6 C283.37,1128.23 294.23,1126.46 298.9,1125.8 C303.57,1125.14 311.6,1124 315.6,1123.1 C319.6,1122.2 328.2,1119.07 332.2,1118.3 C336.2,1117.53 345.23,1117.13 348.9,1116.7 C352.57,1116.27 359.8,1114.51 362.8,1114.7 C365.8,1114.89 370.9,1117.4 373.9,1118.3 C376.9,1119.2 384.46,1121.53 387.8,1122.2 C391.14,1122.87 397.84,1123.32 401.7,1123.9 C405.56,1124.48 416.1,1126.75 420,1127 C423.9,1127.25 431.27,1126.32 434.2,1126 C437.13,1125.68 441.33,1124.42 444.4,1124.3 C447.47,1124.18 456.51,1124.8 459.8,1125 C463.09,1125.2 468.31,1126.29 471.8,1126 C475.29,1125.71 484.8,1123.21 488.9,1122.6 C493,1121.99 502.3,1121.52 506,1120.9 C509.7,1120.28 517.04,1118.43 519.7,1117.4 C522.36,1116.37 525.94,1113.81 528.2,1112.3 C530.46,1110.79 535.63,1107.87 538.5,1104.8 C541.37,1101.73 549.03,1089.29 552.1,1086.7 C555.17,1084.11 561.42,1083.08 564.1,1083.2 C566.78,1083.32 571.74,1086.46 574.4,1087.7 C577.06,1088.94 583.84,1091.86 586.3,1093.5 C588.76,1095.14 592.24,1100.86 594.9,1101.4 C597.56,1101.94 605.22,1099.36 608.5,1098 C611.78,1096.64 618.91,1092.69 622.2,1090.1 C625.49,1087.51 633.24,1080.1 635.9,1076.4 C638.56,1072.7 642.43,1063.4 644.4,1059.3 C646.37,1055.2 649.22,1043.63 652.3,1042.2 C655.38,1040.77 666.32,1044.94 670.1,1047.4 C673.88,1049.86 681.14,1059.02 683.8,1062.7 C686.46,1066.38 690.46,1075.26 692.3,1078.1 C694.14,1080.94 696.96,1083.76 699.1,1086.4 C701.24,1089.04 707.14,1097.47 710.1,1100.1 C713.06,1102.73 720.19,1106.07 723.8,1108.3 C727.41,1110.53 736.26,1116.9 740.2,1118.7 C744.14,1120.5 752,1122.41 756.6,1123.3 C761.2,1124.19 773.24,1125.54 778.5,1126.1 C783.76,1126.66 795.16,1127.58 800.4,1128 C805.64,1128.42 806.29,1129.36 822.2,1129.6 C838.11,1129.84 919.7,1129.95 933,1130" fill="none" stroke="#8058aa" stroke-width="4.2" stroke-linejoin="miter" stroke-miterlimit="2" clip-path="url(#pb2)"/>
<rect x="165.0" y="872.3" width="768.0" height="259.60000000000014" fill="none" stroke="#000" stroke-width="1.6"/>
<line x1="164.2" x2="933.0" y1="1131.9" y2="1131.9" stroke="#000" stroke-width="1.8"/>
<rect x="143.8" y="899.1" width="21.2" height="5.4" fill="#000"/>
<rect x="143.8" y="945.1" width="21.2" height="5.4" fill="#000"/>
<rect x="143.8" y="990.8" width="21.2" height="5.4" fill="#000"/>
<rect x="143.8" y="1036.5" width="21.2" height="5.4" fill="#000"/>
<rect x="143.8" y="1081.7" width="21.2" height="5.4" fill="#000"/>
<rect x="143.8" y="1127.3" width="21.2" height="5.4" fill="#000"/>
<rect x="155.9" y="873.8" width="9.1" height="2.6" fill="#000"/>
<rect x="155.9" y="883.9" width="9.1" height="2.6" fill="#000"/>
<rect x="155.9" y="892.8" width="9.1" height="2.6" fill="#000"/>
<rect x="155.9" y="911.7" width="9.1" height="2.6" fill="#000"/>
<rect x="155.9" y="919.4" width="9.1" height="2.6" fill="#000"/>
<rect x="155.9" y="927.2" width="9.1" height="2.6" fill="#000"/>
<rect x="155.9" y="938.4" width="9.1" height="2.6" fill="#000"/>
<rect x="155.9" y="957.4" width="9.1" height="2.6" fill="#000"/>
<rect x="155.9" y="965.1" width="9.1" height="2.6" fill="#000"/>
<rect x="155.9" y="973.2" width="9.1" height="2.6" fill="#000"/>
<rect x="155.9" y="984" width="9.1" height="2.6" fill="#000"/>
<rect x="155.9" y="1002.3" width="9.1" height="2.6" fill="#000"/>
<rect x="155.9" y="1010" width="9.1" height="2.6" fill="#000"/>
<rect x="155.9" y="1018.5" width="9.1" height="2.6" fill="#000"/>
<rect x="155.9" y="1029.7" width="9.1" height="2.6" fill="#000"/>
<rect x="155.9" y="1048.7" width="9.1" height="2.6" fill="#000"/>
<rect x="155.9" y="1056.4" width="9.1" height="2.6" fill="#000"/>
<rect x="155.9" y="1064.1" width="9.1" height="2.6" fill="#000"/>
<rect x="155.9" y="1075.4" width="9.1" height="2.6" fill="#000"/>
<rect x="155.9" y="1091.5" width="9.1" height="2.6" fill="#000"/>
<rect x="155.9" y="1101.3" width="9.1" height="2.6" fill="#000"/>
<rect x="155.9" y="1109.8" width="9.1" height="2.6" fill="#000"/>
<rect x="155.9" y="1121" width="9.1" height="2.6" fill="#000"/>
<rect x="162.88" y="1131.9" width="2.9" height="8.8" fill="#000"/>
<rect x="182.37" y="1131.9" width="2.9" height="8.8" fill="#000"/>
<rect x="196.89" y="1131.9" width="4.1" height="14" fill="#000"/>
<rect x="209.84" y="1131.9" width="2.9" height="8.8" fill="#000"/>
<rect x="220.29" y="1131.9" width="2.9" height="8.8" fill="#000"/>
<rect x="229.33" y="1131.9" width="2.9" height="8.8" fill="#000"/>
<rect x="237.31" y="1131.9" width="2.9" height="8.8" fill="#000"/>
<rect x="243.05" y="1131.9" width="5.7" height="19.8" fill="#000"/>
<rect x="291.43" y="1131.9" width="2.9" height="8.8" fill="#000"/>
<rect x="318.9" y="1131.9" width="2.9" height="8.8" fill="#000"/>
<rect x="338.4" y="1131.9" width="2.9" height="8.8" fill="#000"/>
<rect x="352.92" y="1131.9" width="4.1" height="14" fill="#000"/>
<rect x="365.88" y="1131.9" width="2.9" height="8.8" fill="#000"/>
<rect x="376.33" y="1131.9" width="2.9" height="8.8" fill="#000"/>
<rect x="385.38" y="1131.9" width="2.9" height="8.8" fill="#000"/>
<rect x="393.36" y="1131.9" width="2.9" height="8.8" fill="#000"/>
<rect x="399.1" y="1131.9" width="5.7" height="19.8" fill="#000"/>
<rect x="446.57" y="1131.9" width="2.9" height="8.8" fill="#000"/>
<rect x="473.52" y="1131.9" width="2.9" height="8.8" fill="#000"/>
<rect x="492.65" y="1131.9" width="2.9" height="8.8" fill="#000"/>
<rect x="506.88" y="1131.9" width="4.1" height="14" fill="#000"/>
<rect x="519.6" y="1131.9" width="2.9" height="8.8" fill="#000"/>
<rect x="529.84" y="1131.9" width="2.9" height="8.8" fill="#000"/>
<rect x="538.72" y="1131.9" width="2.9" height="8.8" fill="#000"/>
<rect x="546.55" y="1131.9" width="2.9" height="8.8" fill="#000"/>
<rect x="552.15" y="1131.9" width="5.7" height="19.8" fill="#000"/>
<rect x="600.51" y="1131.9" width="2.9" height="8.8" fill="#000"/>
<rect x="627.98" y="1131.9" width="2.9" height="8.8" fill="#000"/>
<rect x="647.47" y="1131.9" width="2.9" height="8.8" fill="#000"/>
<rect x="661.99" y="1131.9" width="4.1" height="14" fill="#000"/>
<rect x="674.94" y="1131.9" width="2.9" height="8.8" fill="#000"/>
<rect x="685.39" y="1131.9" width="2.9" height="8.8" fill="#000"/>
<rect x="694.43" y="1131.9" width="2.9" height="8.8" fill="#000"/>
<rect x="702.41" y="1131.9" width="2.9" height="8.8" fill="#000"/>
<rect x="708.15" y="1131.9" width="5.7" height="19.8" fill="#000"/>
<rect x="755.65" y="1131.9" width="2.9" height="8.8" fill="#000"/>
<rect x="782.62" y="1131.9" width="2.9" height="8.8" fill="#000"/>
<rect x="801.76" y="1131.9" width="2.9" height="8.8" fill="#000"/>
<rect x="816" y="1131.9" width="4.1" height="14" fill="#000"/>
<rect x="828.72" y="1131.9" width="2.9" height="8.8" fill="#000"/>
<rect x="838.98" y="1131.9" width="2.9" height="8.8" fill="#000"/>
<rect x="847.86" y="1131.9" width="2.9" height="8.8" fill="#000"/>
<rect x="855.69" y="1131.9" width="2.9" height="8.8" fill="#000"/>
<rect x="861.3" y="1131.9" width="5.7" height="19.8" fill="#000"/>
<rect x="908.76" y="1131.9" width="2.9" height="8.8" fill="#000"/>
<text transform="translate(60.84,960.37) scale(1.0567,1)" x="0" y="0" font-size="23.30" fill="#000" style="font-kerning:none" >0.020</text>
<text transform="translate(60.84,1048.78) scale(1.0762,1)" x="0" y="0" font-size="22.88" fill="#000" style="font-kerning:none" >0.010</text>
<text transform="translate(115.00,1129.17) scale(1.1018,1)" x="0" y="0" font-size="23.16" fill="#000" style="font-kerning:none" >0</text>
<text transform="translate(785.25,970.89) scale(0.9562,1)" x="0" y="0" font-size="52.12" fill="#969696" style="font-kerning:none" >0v&#160;D-</text>
<text transform="translate(785.22,1021.80) scale(0.9879,1)" x="0" y="0" font-size="51.41" fill="#f28282" style="font-kerning:none" >0v&#160;D+</text>
<text transform="translate(787.14,1075.50) scale(0.9718,1)" x="0" y="0" font-size="50.85" fill="#8058aa" style="font-kerning:none" >1250v</text>
<text transform="translate(245.13,1190.68) scale(1.0673,1)" x="0" y="0" font-size="23.02" fill="#000" style="font-kerning:none" >10</text>
<text transform="translate(275.64,1174.60) scale(1.0000,1)" x="0" y="0" font-size="23.11" fill="#000" style="font-kerning:none">1</text>
<text transform="translate(401.18,1190.68) scale(1.0673,1)" x="0" y="0" font-size="23.02" fill="#000" style="font-kerning:none" >10</text>
<text transform="translate(432.30,1174.60) scale(1.0000,1)" x="0" y="0" font-size="22.77" fill="#000" style="font-kerning:none">2</text>
<text transform="translate(554.23,1190.68) scale(1.0673,1)" x="0" y="0" font-size="23.02" fill="#000" style="font-kerning:none" >10</text>
<text transform="translate(585.64,1174.38) scale(1.0000,1)" x="0" y="0" font-size="22.46" fill="#000" style="font-kerning:none">3</text>
<text transform="translate(710.23,1190.68) scale(1.0673,1)" x="0" y="0" font-size="23.02" fill="#000" style="font-kerning:none" >10</text>
<text transform="translate(741.97,1174.60) scale(1.0000,1)" x="0" y="0" font-size="23.11" fill="#000" style="font-kerning:none">4</text>
<text transform="translate(863.38,1190.68) scale(1.0673,1)" x="0" y="0" font-size="23.02" fill="#000" style="font-kerning:none" >10</text>
<text transform="translate(894.74,1174.38) scale(1.0000,1)" x="0" y="0" font-size="22.79" fill="#000" style="font-kerning:none">5</text>
<text transform="translate(394.38,1233.89) scale(0.9365,1)" x="0" y="0" font-size="32.83" fill="#000" style="font-kerning:none" >Fluorescence&#160;intensity</text>
<text transform="translate(31.81,778.31) rotate(-90) scale(1.0877,1)" x="0" y="0" font-size="29.96" fill="#000" style="font-kerning:none" >Unit&#160;area</text>
<rect x="164.4" y="1286.2" width="375.30000000000007" height="269.0999999999999" fill="#fff"/>
<line x1="164.4" x2="539.7" y1="1512.06" y2="1512.06" stroke="#eaebee" stroke-width="1.3"/>
<line x1="164.4" x2="539.7" y1="1450.59" y2="1450.59" stroke="#eaebee" stroke-width="1.3"/>
<line x1="164.4" x2="539.7" y1="1389.11" y2="1389.11" stroke="#eaebee" stroke-width="1.3"/>
<line x1="164.4" x2="539.7" y1="1327.64" y2="1327.64" stroke="#eaebee" stroke-width="1.3"/>
<line x1="164.4" x2="539.7" y1="1542.8" y2="1542.8" stroke="#eaebee" stroke-width="2.4"/>
<line x1="164.4" x2="539.7" y1="1481.33" y2="1481.33" stroke="#eaebee" stroke-width="2.4"/>
<line x1="164.4" x2="539.7" y1="1419.85" y2="1419.85" stroke="#eaebee" stroke-width="2.4"/>
<line x1="164.4" x2="539.7" y1="1358.38" y2="1358.38" stroke="#eaebee" stroke-width="2.4"/>
<line x1="164.4" x2="539.7" y1="1296.9" y2="1296.9" stroke="#eaebee" stroke-width="2.4"/>
<line x1="217.4" x2="217.4" y1="1286.2" y2="1555.3" stroke="#eaebee" stroke-width="2.4"/>
<line x1="307.2" x2="307.2" y1="1286.2" y2="1555.3" stroke="#eaebee" stroke-width="2.4"/>
<line x1="396.9" x2="396.9" y1="1286.2" y2="1555.3" stroke="#eaebee" stroke-width="2.4"/>
<line x1="486.4" x2="486.4" y1="1286.2" y2="1555.3" stroke="#eaebee" stroke-width="2.4"/>
<rect x="164.4" y="1555.3" width="375.30000000000007" height="49.600000000000136" fill="#d9d9d9" stroke="#333" stroke-width="1.6"/>
<rect x="164.4" y="1286.2" width="375.30000000000007" height="269.0999999999999" fill="none" stroke="#333" stroke-width="1.6"/>
<line x1="164.4" x2="539.7" y1="1555.3" y2="1555.3" stroke="#2b2b2b" stroke-width="2.8"/>
<text transform="translate(291.05,1589.63) scale(0.9575,1)" x="0" y="0" font-size="27.37" fill="#1a1a1a" style="font-kerning:none" >Dextran&#160;&#160;+</text>
<line x1="217.4" x2="217.4" y1="1604.9" y2="1613.5" stroke="#333" stroke-width="2.2"/>
<text transform="translate(210.25,1639.69) scale(1.0200,1)" x="0" y="0" font-size="26.98" fill="#1a1a1a" style="font-kerning:none">0</text>
<line x1="307.2" x2="307.2" y1="1604.9" y2="1613.5" stroke="#333" stroke-width="2.2"/>
<text transform="translate(284.58,1639.69) scale(1.0200,1)" x="0" y="0" font-size="26.98" fill="#1a1a1a" style="font-kerning:none">750</text>
<line x1="396.9" x2="396.9" y1="1604.9" y2="1613.5" stroke="#333" stroke-width="2.2"/>
<text transform="translate(366.28,1639.69) scale(1.0200,1)" x="0" y="0" font-size="26.98" fill="#1a1a1a" style="font-kerning:none">1000</text>
<line x1="486.4" x2="486.4" y1="1604.9" y2="1613.5" stroke="#333" stroke-width="2.2"/>
<text transform="translate(455.78,1639.69) scale(1.0200,1)" x="0" y="0" font-size="26.98" fill="#1a1a1a" style="font-kerning:none">1250</text>
<rect x="558.9" y="1286.2" width="374.70000000000005" height="269.0999999999999" fill="#fff"/>
<line x1="558.9" x2="933.6" y1="1512.06" y2="1512.06" stroke="#eaebee" stroke-width="1.3"/>
<line x1="558.9" x2="933.6" y1="1450.59" y2="1450.59" stroke="#eaebee" stroke-width="1.3"/>
<line x1="558.9" x2="933.6" y1="1389.11" y2="1389.11" stroke="#eaebee" stroke-width="1.3"/>
<line x1="558.9" x2="933.6" y1="1327.64" y2="1327.64" stroke="#eaebee" stroke-width="1.3"/>
<line x1="558.9" x2="933.6" y1="1542.8" y2="1542.8" stroke="#eaebee" stroke-width="2.4"/>
<line x1="558.9" x2="933.6" y1="1481.33" y2="1481.33" stroke="#eaebee" stroke-width="2.4"/>
<line x1="558.9" x2="933.6" y1="1419.85" y2="1419.85" stroke="#eaebee" stroke-width="2.4"/>
<line x1="558.9" x2="933.6" y1="1358.38" y2="1358.38" stroke="#eaebee" stroke-width="2.4"/>
<line x1="558.9" x2="933.6" y1="1296.9" y2="1296.9" stroke="#eaebee" stroke-width="2.4"/>
<line x1="611.8" x2="611.8" y1="1286.2" y2="1555.3" stroke="#eaebee" stroke-width="2.4"/>
<line x1="701.6" x2="701.6" y1="1286.2" y2="1555.3" stroke="#eaebee" stroke-width="2.4"/>
<line x1="791" x2="791" y1="1286.2" y2="1555.3" stroke="#eaebee" stroke-width="2.4"/>
<line x1="880.6" x2="880.6" y1="1286.2" y2="1555.3" stroke="#eaebee" stroke-width="2.4"/>
<rect x="558.9" y="1555.3" width="374.70000000000005" height="49.600000000000136" fill="#d9d9d9" stroke="#333" stroke-width="1.6"/>
<rect x="558.9" y="1286.2" width="374.70000000000005" height="269.0999999999999" fill="none" stroke="#333" stroke-width="1.6"/>
<line x1="558.9" x2="933.6" y1="1555.3" y2="1555.3" stroke="#2b2b2b" stroke-width="2.8"/>
<text transform="translate(700.77,1590.53) scale(1.0191,1)" x="0" y="0" font-size="27.64" fill="#1a1a1a" style="font-kerning:none" >Control</text>
<line x1="611.8" x2="611.8" y1="1604.9" y2="1613.5" stroke="#333" stroke-width="2.2"/>
<text transform="translate(604.65,1639.69) scale(1.0200,1)" x="0" y="0" font-size="26.98" fill="#1a1a1a" style="font-kerning:none">0</text>
<line x1="701.6" x2="701.6" y1="1604.9" y2="1613.5" stroke="#333" stroke-width="2.2"/>
<text transform="translate(678.98,1639.69) scale(1.0200,1)" x="0" y="0" font-size="26.98" fill="#1a1a1a" style="font-kerning:none">750</text>
<line x1="791" x2="791" y1="1604.9" y2="1613.5" stroke="#333" stroke-width="2.2"/>
<text transform="translate(760.38,1639.69) scale(1.0200,1)" x="0" y="0" font-size="26.98" fill="#1a1a1a" style="font-kerning:none">1000</text>
<line x1="880.6" x2="880.6" y1="1604.9" y2="1613.5" stroke="#333" stroke-width="2.2"/>
<text transform="translate(849.98,1639.69) scale(1.0200,1)" x="0" y="0" font-size="26.98" fill="#1a1a1a" style="font-kerning:none">1250</text>
<line x1="155.1" x2="164.4" y1="1542.8" y2="1542.8" stroke="#333" stroke-width="2.3"/>
<text transform="translate(131.17,1552.84) scale(0.9700,1)" x="0" y="0" font-size="26.98" fill="#1a1a1a" style="font-kerning:none">0</text>
<line x1="155.1" x2="164.4" y1="1481.33" y2="1481.33" stroke="#333" stroke-width="2.3"/>
<text transform="translate(116.69,1491.36) scale(0.9700,1)" x="0" y="0" font-size="26.98" fill="#1a1a1a" style="font-kerning:none">25</text>
<line x1="155.1" x2="164.4" y1="1419.85" y2="1419.85" stroke="#333" stroke-width="2.3"/>
<text transform="translate(116.62,1429.89) scale(0.9700,1)" x="0" y="0" font-size="26.98" fill="#1a1a1a" style="font-kerning:none">50</text>
<line x1="155.1" x2="164.4" y1="1358.38" y2="1358.38" stroke="#333" stroke-width="2.3"/>
<text transform="translate(116.28,1368.41) scale(0.9700,1)" x="0" y="0" font-size="27.37" fill="#1a1a1a" style="font-kerning:none">75</text>
<line x1="155.1" x2="164.4" y1="1296.9" y2="1296.9" stroke="#333" stroke-width="2.3"/>
<text transform="translate(102.06,1306.94) scale(0.9700,1)" x="0" y="0" font-size="26.98" fill="#1a1a1a" style="font-kerning:none">100</text>
<circle cx="214.9" cy="1535.1" r="11.2" fill="none" stroke="#f2776f" stroke-width="1.8"/>
<circle cx="218.5" cy="1534" r="11.2" fill="none" stroke="#f2776f" stroke-width="1.8"/>
<circle cx="221.5" cy="1533" r="11.2" fill="none" stroke="#f2776f" stroke-width="1.8"/>
<circle cx="223.2" cy="1531.7" r="11.2" fill="none" stroke="#f2776f" stroke-width="1.8"/>
<rect x="216.2" y="1522.2" width="2.6" height="22.1" fill="#000"/>
<rect x="205.5" y="1532.3" width="24" height="2" fill="#000"/>
<rect x="212.2" y="1530.1" width="10.6" height="6.3" fill="#000"/>
<circle cx="302.5" cy="1344.1" r="11.2" fill="none" stroke="#6aac3a" stroke-width="1.8"/>
<circle cx="304.7" cy="1361.8" r="11.2" fill="none" stroke="#6aac3a" stroke-width="1.8"/>
<rect x="305.55" y="1340.5" width="3.1" height="24.9" fill="#000"/>
<rect x="301.7" y="1339.05" width="10.8" height="2.9" fill="#000"/>
<rect x="301.7" y="1363.95" width="10.8" height="2.9" fill="#000"/>
<rect x="295.2" y="1352.05" width="23.8" height="1.9" fill="#000"/>
<circle cx="391.4" cy="1303.2" r="11.2" fill="none" stroke="#1ebac3" stroke-width="1.8"/>
<circle cx="395.4" cy="1303.2" r="11.2" fill="none" stroke="#1ebac3" stroke-width="1.8"/>
<circle cx="399.3" cy="1303.2" r="11.2" fill="none" stroke="#1ebac3" stroke-width="1.8"/>
<rect x="395.6" y="1292.1" width="2.6" height="22.6" fill="#000"/>
<rect x="385" y="1302.45" width="23.8" height="1.9" fill="#000"/>
<rect x="391.8" y="1301.5" width="10.1" height="4" fill="#000"/>
<circle cx="480" cy="1309.7" r="11.2" fill="none" stroke="#ad80cf" stroke-width="1.8"/>
<circle cx="487" cy="1310.2" r="11.2" fill="none" stroke="#ad80cf" stroke-width="1.8"/>
<circle cx="482.7" cy="1322.6" r="11.2" fill="none" stroke="#ad80cf" stroke-width="1.8"/>
<rect x="485.4" y="1306.7" width="2.4" height="15" fill="#000"/>
<rect x="481.25" y="1305.4" width="10.7" height="2.6" fill="#000"/>
<rect x="481.25" y="1320.4" width="10.7" height="2.6" fill="#000"/>
<rect x="474.4" y="1313.3" width="24.4" height="1.8" fill="#000"/>
<rect x="485.4" y="1303" width="2.4" height="22.5" fill="#000"/>
<circle cx="609" cy="1541.8" r="11.2" fill="none" stroke="#f2776f" stroke-width="1.8"/>
<circle cx="611" cy="1541.8" r="11.2" fill="none" stroke="#f2776f" stroke-width="1.8"/>
<circle cx="620" cy="1541.8" r="11.2" fill="none" stroke="#f2776f" stroke-width="1.8"/>
<rect x="610.45" y="1530.9" width="2.6" height="22.9" fill="#000"/>
<rect x="600" y="1541.25" width="23.5" height="1.9" fill="#000"/>
<rect x="606" y="1541" width="11" height="2.7" fill="#000"/>
<circle cx="698.4" cy="1541.6" r="11.2" fill="none" stroke="#6aac3a" stroke-width="1.8"/>
<circle cx="709" cy="1540.4" r="11.2" fill="none" stroke="#6aac3a" stroke-width="1.8"/>
<rect x="700.1" y="1530.2" width="2.6" height="22.4" fill="#000"/>
<rect x="689.25" y="1540.35" width="24.3" height="1.9" fill="#000"/>
<rect x="696.1" y="1539.3" width="10.6" height="4.4" fill="#000"/>
<circle cx="782.4" cy="1539" r="11.2" fill="none" stroke="#1ebac3" stroke-width="1.8"/>
<circle cx="783.6" cy="1539" r="11.2" fill="none" stroke="#1ebac3" stroke-width="1.8"/>
<circle cx="785" cy="1539" r="11.2" fill="none" stroke="#1ebac3" stroke-width="1.8"/>
<circle cx="786.8" cy="1539" r="11.2" fill="none" stroke="#1ebac3" stroke-width="1.8"/>
<rect x="790" y="1527.9" width="2.6" height="22.6" fill="#000"/>
<rect x="779.5" y="1538.25" width="23.6" height="1.9" fill="#000"/>
<rect x="786" y="1537" width="10.4" height="4.4" fill="#000"/>
<circle cx="876.8" cy="1536.9" r="11.2" fill="none" stroke="#ad80cf" stroke-width="1.8"/>
<circle cx="877.5" cy="1538.5" r="11.2" fill="none" stroke="#ad80cf" stroke-width="1.8"/>
<circle cx="878.2" cy="1540" r="11.2" fill="none" stroke="#ad80cf" stroke-width="1.8"/>
<rect x="879.8" y="1527.9" width="2.6" height="22.4" fill="#000"/>
<rect x="869.35" y="1538.05" width="23.5" height="1.9" fill="#000"/>
<rect x="876" y="1535.4" width="9.9" height="7.2" fill="#000"/>
<text transform="translate(462.35,1676.80) scale(0.9925,1)" x="0" y="0" font-size="33.26" fill="#000" style="font-kerning:none" >Voltage&#160;&#160;(V)</text>
<text transform="translate(86.54,1489.38) rotate(-90) scale(0.8975,1)" x="0" y="0" font-size="36.77" fill="#000" style="font-kerning:none" >%&#160;Positive</text>
<rect x="163.8" y="1720.3" width="770.2" height="318.9000000000001" fill="#fff"/>
<line x1="163.8" x2="934.0" y1="1988.56" y2="1988.56" stroke="#eaebee" stroke-width="1.3"/>
<line x1="163.8" x2="934.0" y1="1915.89" y2="1915.89" stroke="#eaebee" stroke-width="1.3"/>
<line x1="163.8" x2="934.0" y1="1843.21" y2="1843.21" stroke="#eaebee" stroke-width="1.3"/>
<line x1="163.8" x2="934.0" y1="1770.54" y2="1770.54" stroke="#eaebee" stroke-width="1.3"/>
<line x1="163.8" x2="934.0" y1="2024.9" y2="2024.9" stroke="#eaebee" stroke-width="2.4"/>
<line x1="163.8" x2="934.0" y1="1952.23" y2="1952.23" stroke="#eaebee" stroke-width="2.4"/>
<line x1="163.8" x2="934.0" y1="1879.55" y2="1879.55" stroke="#eaebee" stroke-width="2.4"/>
<line x1="163.8" x2="934.0" y1="1806.88" y2="1806.88" stroke="#eaebee" stroke-width="2.4"/>
<line x1="163.8" x2="934.0" y1="1734.2" y2="1734.2" stroke="#eaebee" stroke-width="2.4"/>
<line x1="307.4" x2="307.4" y1="1720.3" y2="2039.2" stroke="#eaebee" stroke-width="2.4"/>
<line x1="548.9" x2="548.9" y1="1720.3" y2="2039.2" stroke="#eaebee" stroke-width="2.4"/>
<line x1="790.2" x2="790.2" y1="1720.3" y2="2039.2" stroke="#eaebee" stroke-width="2.4"/>
<rect x="163.8" y="1720.3" width="770.2" height="318.9000000000001" fill="none" stroke="#333" stroke-width="1.6"/>
<line x1="154.2" x2="163.8" y1="2024.9" y2="2024.9" stroke="#333" stroke-width="2.3"/>
<text transform="translate(130.37,2034.94) scale(0.9700,1)" x="0" y="0" font-size="26.98" fill="#1a1a1a" style="font-kerning:none">0</text>
<line x1="154.2" x2="163.8" y1="1952.23" y2="1952.23" stroke="#333" stroke-width="2.3"/>
<text transform="translate(115.89,1962.26) scale(0.9700,1)" x="0" y="0" font-size="26.98" fill="#1a1a1a" style="font-kerning:none">25</text>
<line x1="154.2" x2="163.8" y1="1879.55" y2="1879.55" stroke="#333" stroke-width="2.3"/>
<text transform="translate(115.82,1889.59) scale(0.9700,1)" x="0" y="0" font-size="26.98" fill="#1a1a1a" style="font-kerning:none">50</text>
<line x1="154.2" x2="163.8" y1="1806.88" y2="1806.88" stroke="#333" stroke-width="2.3"/>
<text transform="translate(115.48,1816.91) scale(0.9700,1)" x="0" y="0" font-size="27.37" fill="#1a1a1a" style="font-kerning:none">75</text>
<line x1="154.2" x2="163.8" y1="1734.2" y2="1734.2" stroke="#333" stroke-width="2.3"/>
<text transform="translate(101.26,1744.24) scale(0.9700,1)" x="0" y="0" font-size="26.98" fill="#1a1a1a" style="font-kerning:none">100</text>
<line x1="307.4" x2="307.4" y1="2039.2" y2="2047.8" stroke="#333" stroke-width="2.2"/>
<text transform="translate(284.58,2073.79) scale(1.0200,1)" x="0" y="0" font-size="26.98" fill="#1a1a1a" style="font-kerning:none">750</text>
<line x1="548.9" x2="548.9" y1="2039.2" y2="2047.8" stroke="#333" stroke-width="2.2"/>
<text transform="translate(518.08,2073.79) scale(1.0200,1)" x="0" y="0" font-size="26.98" fill="#1a1a1a" style="font-kerning:none">1000</text>
<line x1="790.2" x2="790.2" y1="2039.2" y2="2047.8" stroke="#333" stroke-width="2.2"/>
<text transform="translate(759.38,2073.79) scale(1.0200,1)" x="0" y="0" font-size="26.98" fill="#1a1a1a" style="font-kerning:none">1250</text>
<rect x="291" y="1836.05" width="32.8" height="1.9" fill="#000"/>
<rect x="532.1" y="1862.05" width="33.6" height="1.9" fill="#000"/>
<rect x="773.4" y="1946.45" width="33.6" height="1.9" fill="#000"/>
<circle cx="307.5" cy="1818.2" r="11.1" fill="none" stroke="#22aa4a" stroke-width="4.4"/>
<circle cx="307.5" cy="1855.4" r="11.1" fill="none" stroke="#22aa4a" stroke-width="4.4"/>
<rect x="305.9" y="1810.9" width="3.0" height="52.3" fill="#000"/>
<rect x="283.25" y="1809.35" width="48.3" height="3.1" fill="#000"/>
<rect x="283.25" y="1861.65" width="48.3" height="3.1" fill="#000"/>
<circle cx="548.9" cy="1817.9" r="11" fill="none" stroke="#46c0c8" stroke-width="4.4"/>
<circle cx="548.9" cy="1865.6" r="11" fill="none" stroke="#46c0c8" stroke-width="4.4"/>
<circle cx="548.9" cy="1905" r="11" fill="none" stroke="#46c0c8" stroke-width="4.4"/>
<rect x="547.4" y="1819.7" width="3.0" height="86.7" fill="#000"/>
<rect x="525" y="1818.15" width="47.8" height="3.1" fill="#000"/>
<rect x="525" y="1904.85" width="47.8" height="3.1" fill="#000"/>
<circle cx="790.2" cy="1928.8" r="11" fill="none" stroke="#8058aa" stroke-width="4.4"/>
<circle cx="790.2" cy="1951" r="11" fill="none" stroke="#8058aa" stroke-width="4.4"/>
<circle cx="790.2" cy="1961.3" r="11" fill="none" stroke="#8058aa" stroke-width="4.4"/>
<rect x="788.7" y="1931.8" width="3.0" height="31.8" fill="#000"/>
<rect x="766.2" y="1930.25" width="48" height="3.1" fill="#000"/>
<rect x="766.2" y="1962.05" width="48" height="3.1" fill="#000"/>
<text transform="translate(462.35,2111.51) scale(0.9799,1)" x="0" y="0" font-size="33.69" fill="#000" style="font-kerning:none" >Voltage&#160;&#160;(V)</text>
<text transform="translate(88.65,1948.88) rotate(-90) scale(0.9210,1)" x="0" y="0" font-size="35.95" fill="#000" style="font-kerning:none" >%&#160;Survival</text>
<text transform="translate(2.88,48.90) scale(0.8794,1)" x="0" y="0" font-size="69.62" fill="#000" style="font-kerning:none" >A</text>
<text transform="translate(1.59,316.80) scale(0.8181,1)" x="0" y="0" font-size="71.66" fill="#000" style="font-kerning:none" >B</text>
<text transform="translate(1.15,1328.72) scale(0.8295,1)" x="0" y="0" font-size="70.06" fill="#000" style="font-kerning:none" >C</text>
<text transform="translate(-0.30,1763.70) scale(0.9538,1)" x="0" y="0" font-size="71.51" fill="#000" style="font-kerning:none" >D</text>
</svg></body></html>
